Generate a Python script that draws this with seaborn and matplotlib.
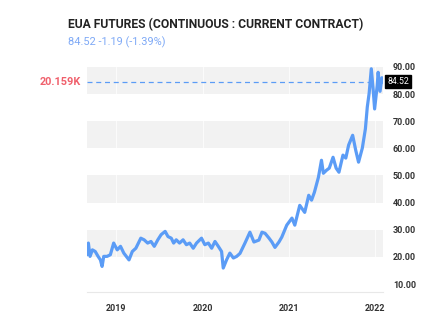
import matplotlib
matplotlib.use("Agg")
import matplotlib.pyplot as plt
import seaborn as sns
import pandas as pd

# ---- data ----
dates = [
    "2018-08-29", "2018-09-04", "2018-09-11", "2018-09-21", "2018-10-03", "2018-10-15",
    "2018-10-25", "2018-11-01", "2018-11-08", "2018-11-22", "2018-12-06", "2018-12-20",
    "2019-01-04", "2019-01-18", "2019-02-01", "2019-02-23", "2019-03-09", "2019-03-24",
    "2019-04-14", "2019-04-28", "2019-05-13", "2019-05-27", "2019-06-10", "2019-06-25",
    "2019-07-09", "2019-07-26", "2019-08-07", "2019-08-21", "2019-08-31", "2019-09-11",
    "2019-09-25", "2019-10-10", "2019-10-24", "2019-11-07", "2019-11-22", "2019-12-06",
    "2019-12-27", "2020-01-10", "2020-01-25", "2020-02-08", "2020-02-22", "2020-03-07",
    "2020-03-21", "2020-03-28", "2020-04-11", "2020-04-25", "2020-05-10", "2020-05-24",
    "2020-06-07", "2020-06-28", "2020-07-19", "2020-08-05", "2020-08-26", "2020-09-08",
    "2020-09-21", "2020-10-08", "2020-10-20", "2020-11-02", "2020-11-19", "2020-12-01",
    "2020-12-22", "2021-01-13", "2021-01-25", "2021-02-15", "2021-03-08", "2021-03-25",
    "2021-04-06", "2021-04-18", "2021-05-05", "2021-05-18", "2021-05-26", "2021-06-08",
    "2021-06-20", "2021-07-06", "2021-07-19", "2021-07-31", "2021-08-17", "2021-08-29",
    "2021-09-10", "2021-09-27", "2021-10-10", "2021-10-22", "2021-11-07", "2021-11-20",
    "2021-11-28", "2021-12-06", "2021-12-15", "2021-12-23", "2021-12-29", "2022-01-09",
    "2022-01-13", "2022-01-21", "2022-01-29", "2022-02-02",
]
prices = [
    20.8, 25.1, 20.2, 22.6, 22.0, 20.2,
    18.9, 16.5, 20.2, 20.2, 20.8, 25.1,
    22.6, 23.9, 21.4, 18.9, 22.0, 23.2,
    26.9, 26.3, 25.1, 25.7, 23.9, 26.3,
    28.2, 29.4, 27.5, 26.9, 25.1, 26.3,
    25.1, 26.3, 24.5, 25.1, 23.2, 25.1,
    26.9, 24.5, 25.1, 23.2, 25.7, 23.9,
    22.0, 15.9, 18.9, 21.4, 19.6, 20.2,
    21.3, 25.1, 29.1, 25.5, 26.2, 29.1,
    28.7, 26.9, 25.5, 23.5, 25.5, 27.3,
    31.7, 34.3, 31.7, 39.0, 36.4, 42.7,
    40.9, 43.8, 49.3, 55.6, 50.8, 51.9,
    52.7, 56.7, 52.7, 51.2, 57.5, 56.4,
    61.2, 64.8, 59.3, 54.9, 60.1, 67.2,
    75.2, 80.4, 89.3, 81.5, 74.5, 83.1,
    88.0, 81.0, 86.0, 84.52,
]
year_ticks = ["2019-01-01", "2020-01-01", "2021-01-01", "2022-01-01"]
year_labels = ["2019", "2020", "2021", "2022"]
y_ticks = [10, 20, 30, 40, 50, 60, 70, 80, 90]
bands = [(20, 30), (40, 50), (60, 70), (80, 90)]
last_price = 84.52
title = "EUA FUTURES (CONTINUOUS : CURRENT CONTRACT)"
subtitle = "84.52 -1.19 (-1.39%)"
left_label = "20.159K"

df = pd.DataFrame({"date": pd.to_datetime(dates), "price": prices})

sns.set_theme(style="white")
plt.rcParams["font.family"] = ["Roboto", "DejaVu Sans"]

LINE = "#5b9cf6"
fig = plt.figure(figsize=(4.46, 3.31), dpi=100)
ax = fig.add_axes([0.195, 0.118, 0.664, 0.680])

for lo, hi in bands:
    ax.axhspan(lo, hi, color="#f2f2f2", lw=0, zorder=0)
for t in year_ticks:
    ax.axvline(pd.Timestamp(t), color="white", lw=0.8, alpha=0.7, zorder=0.5)

sns.lineplot(data=df, x="date", y="price", ax=ax, color=LINE, lw=2.3,
             solid_joinstyle="round", solid_capstyle="round", zorder=3)
ax.axhline(last_price, color=LINE, lw=0.9, ls=(0, (4, 3)), zorder=2)

ax.set_xlim(pd.Timestamp("2018-08-29"), pd.Timestamp("2022-02-03"))
ax.set_ylim(7.1, 90)

for s in ["top", "left", "right"]:
    ax.spines[s].set_visible(False)
ax.spines["bottom"].set_color("#e8e8e8")
ax.spines["bottom"].set_linewidth(0.8)

ax.set_xticks(pd.to_datetime(year_ticks))
ax.set_xticklabels(year_labels, fontsize=6.5, color="#333333", fontweight="bold")
ax.yaxis.tick_right()
ax.set_yticks(y_ticks)
ax.set_yticklabels([f"{v:.2f}" for v in y_ticks], fontsize=6.5, color="#333333",
                   fontweight="bold")
ax.tick_params(axis="both", length=0, pad=7)
ax.tick_params(axis="x", pad=9)
ax.set_xlabel("")
ax.set_ylabel("")

ax.text(1.015, last_price, f"{last_price:.2f}", transform=ax.get_yaxis_transform(),
        ha="left", va="center", fontsize=6.3, color="white",
        bbox=dict(boxstyle="square,pad=0.25", fc="black", ec="black"))
ax.text(-0.02, last_price, left_label, transform=ax.get_yaxis_transform(),
        ha="right", va="center", fontsize=7.8, color="#f0606c", fontweight="bold")

fig.text(0.152, 0.927, title, fontsize=8.75, fontweight="bold", color="#222222",
         ha="left", va="center")
fig.text(0.152, 0.873, subtitle, fontsize=7.95, color="#7ea9f6", ha="left", va="center")

fig.savefig("out.png", dpi=100)
